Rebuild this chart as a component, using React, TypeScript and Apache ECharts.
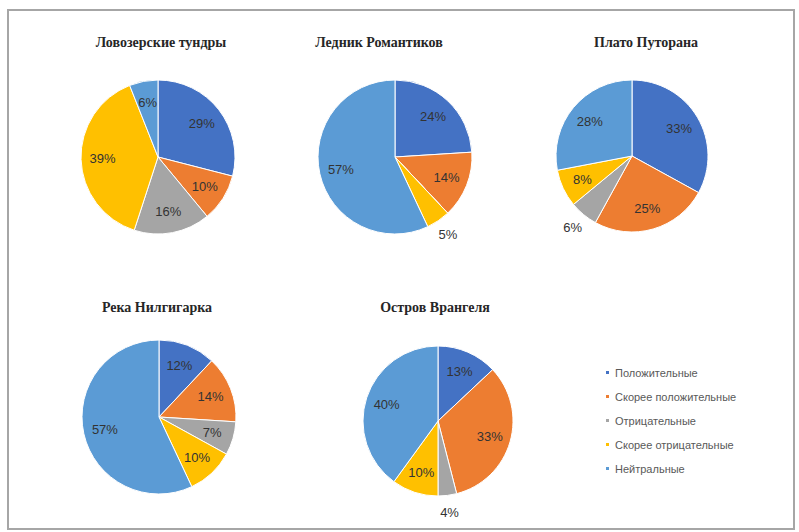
import React, { useEffect, useRef } from "react";
import * as echarts from "echarts";

// Answer categories shared by every pie
const CATEGORIES = [
  "Положительные",
  "Скорее положительные",
  "Отрицательные",
  "Скорее отрицательные",
  "Нейтральные",
];
const COLORS = ["#4472C4", "#ED7D31", "#A5A5A5", "#FFC000", "#5B9BD5"];

// Share of answers per place, %
const SITES = [
  "Ловозерские тундры",
  "Ледник Романтиков",
  "Плато Путорана",
  "Река Нилгигарка",
  "Остров Врангеля",
];
const lovozero = [29, 10, 16, 39, 6];
const romantikov = [24, 14, 0, 5, 57];
const putorana = [33, 25, 6, 8, 28];
const nilgigarka = [12, 14, 7, 10, 57];
const wrangel = [13, 33, 4, 10, 40];
const VALUES = [lovozero, romantikov, putorana, nilgigarka, wrangel];

// Small slices whose labels sit outside the pie
const OUTSIDE_LABELS: Record<string, string[]> = {
  "Ледник Романтиков": ["Скорее отрицательные"],
  "Плато Путорана": ["Отрицательные"],
  "Остров Врангеля": ["Отрицательные"],
};

// Placement of each pie: centre, radius and title anchor
const LAYOUT = [
  { cx: 158, cy: 157, r: 77, tx: 156, ty: 30 },
  { cx: 395, cy: 157, r: 77, tx: 374, ty: 30 },
  { cx: 632, cy: 156, r: 76, tx: 641, ty: 30 },
  { cx: 159, cy: 417, r: 77, tx: 152, ty: 295 },
  { cx: 438, cy: 421, r: 75, tx: 430, ty: 295 },
];

const LABEL_FONT = "'Liberation Sans', Arial, sans-serif";
const TITLE_FONT = "'Liberation Serif', 'Times New Roman', serif";

export default function App() {
  const ref = useRef<HTMLDivElement>(null);

  useEffect(() => {
    if (!ref.current) return;
    const chart = echarts.init(ref.current, undefined, { renderer: "svg" });

    const series = SITES.map((site, si) => {
      const { cx, cy, r } = LAYOUT[si];
      const outside = OUTSIDE_LABELS[site] || [];
      const values = VALUES[si];
      const total = values.reduce((a, b) => a + b, 0);
      return {
        type: "pie",
        name: site,
        center: [cx, cy],
        radius: [0, r],
        startAngle: 90,
        clockwise: true,
        avoidLabelOverlap: false,
        itemStyle: { borderColor: "#ffffff", borderWidth: 1 },
        emphasis: { disabled: true },
        label: {
          show: true,
          position: "inside",
          color: "#333333",
          fontSize: 13,
          fontFamily: LABEL_FONT,
          formatter: (p: any) => `${p.value}%`,
        },
        labelLine: { show: false },
        // set each label along the middle of its slice: near the rim inside,
        // just beyond the rim for the small slices
        labelLayout: (p: any) => {
          const i = p.dataIndex;
          const before = values.slice(0, i).reduce((a, b) => a + b, 0);
          const mid = ((before + values[i] / 2) / total) * Math.PI * 2;
          const d = outside.includes(CATEGORIES[i]) ? r + 17 : r * 0.72;
          return {
            x: cx + d * Math.sin(mid),
            y: cy - d * Math.cos(mid),
            align: "center",
            verticalAlign: "middle",
          };
        },
        data: CATEGORIES.map((name, i) => {
          const value = values[i];
          return {
            name,
            value,
            itemStyle: { color: COLORS[i] },
            label: value === 0 ? { show: false } : undefined,
          };
        }),
      };
    });

    const titles = SITES.map((site, si) => ({
      text: site,
      left: LAYOUT[si].tx,
      top: LAYOUT[si].ty,
      textAlign: "center",
      textStyle: {
        fontFamily: TITLE_FONT,
        fontWeight: "bold",
        fontSize: 14,
        color: "#262626",
      },
    }));

    chart.setOption({
      animation: false,
      backgroundColor: "#ffffff",
      color: COLORS,
      title: titles,
      legend: {
        orient: "vertical",
        left: 599,
        top: 362,
        icon: "rect",
        itemWidth: 5,
        itemHeight: 5,
        itemGap: 13,
        selectedMode: false,
        data: CATEGORIES,
        textStyle: {
          fontFamily: LABEL_FONT,
          fontSize: 11,
          lineHeight: 11,
          color: "#595959",
          padding: [0, 0, 0, 0],
        },
      },
      graphic: [
        {
          type: "rect",
          shape: { x: 8, y: 10, width: 786, height: 519 },
          style: { fill: "none", stroke: "#a6a6a6", lineWidth: 2 },
          silent: true,
        },
      ],
      series,
    });

    return () => chart.dispose();
  }, []);

  return (
    <div
      ref={ref}
      style={{ position: "fixed", left: 0, top: 0, width: 799, height: 532 }}
    />
  );
}
